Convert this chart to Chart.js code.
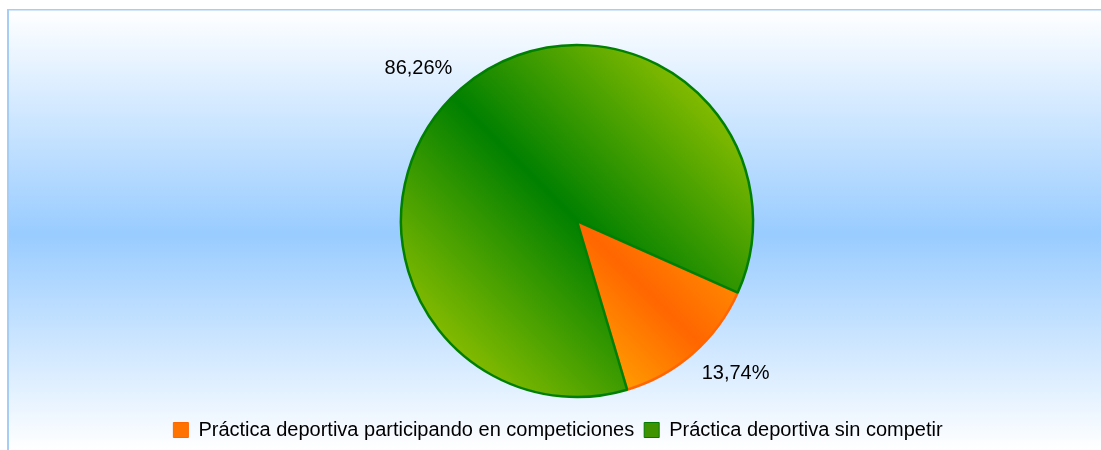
<!DOCTYPE html>
<html>
<head>
<meta charset="utf-8">
<script src="https://cdn.jsdelivr.net/npm/chart.js"></script>
<style>
  html, body { margin: 0; padding: 0; background: #ffffff; }
  #wrap { position: relative; width: 1101px; height: 450px; }
</style>
</head>
<body>
<div id="wrap"><canvas id="pieChart"></canvas></div>
<script>
  const categories = [
    "Práctica deportiva participando en competiciones",
    "Práctica deportiva sin competir",
  ];
  const shares = [13.74, 86.26];

  const FONT = '"Liberation Sans", Arial, sans-serif';
  const PIE_RADIUS = 176;
  const LABEL_GAP = 13;

  // slice gradients: [edge, middle, other edge]
  const sliceStops = [
    ["#ffa400", "#ff6600", "#ffb400"],
    ["#82ba00", "#008000", "#82ba00"],
  ];
  const sliceBorders = ["#ff6600", "#008000"];
  const legendFill = ["#ff7400", "#3f9200"];
  const legendStroke = ["#ff6600", "#007a00"];

  function formatShare(v) {
    return v.toFixed(2).replace(".", ",") + "%";
  }

  function sliceGradient(c) {
    const chart = c.chart;
    const area = chart.chartArea;
    const i = c.dataIndex;
    if (!area || i === undefined) return sliceBorders[i || 0];

    const cx = (area.left + area.right) / 2;
    const cy = (area.top + area.bottom) / 2;
    const r = PIE_RADIUS;
    let g;
    if (i === 0) {
      g = chart.ctx.createLinearGradient(cx + r, cy, cx, cy + r);
    } else {
      const k = r * 0.707;
      g = chart.ctx.createLinearGradient(cx + k, cy - k, cx - k, cy + k);
    }
    g.addColorStop(0, sliceStops[i][0]);
    g.addColorStop(0.5, sliceStops[i][1]);
    g.addColorStop(1, sliceStops[i][2]);
    return g;
  }

  const framePlugin = {
    id: "frame",
    beforeDraw(chart) {
      const { ctx, width, height } = chart;
      const bg = ctx.createLinearGradient(0, 10, 0, height);
      bg.addColorStop(0, "#ffffff");
      bg.addColorStop(0.51, "#99ccff");
      bg.addColorStop(1, "#ffffff");
      ctx.save();
      ctx.fillStyle = bg;
      ctx.fillRect(8, 10, width - 8, height - 10);
      ctx.fillStyle = "#a6cdf5";
      ctx.fillRect(7, 9, 2, height - 9);
      ctx.fillRect(7, 9, width - 7, 1.5);
      ctx.restore();
    },
  };

  // legend sits a little left of the pie in the original
  const legendShift = {
    id: "legendShift",
    afterLayout(chart) {
      if (!chart.legend) return;
      chart.legend.left -= 19;
      chart.legend.right -= 19;
    },
  };

  const sliceLabels = {
    id: "sliceLabels",
    afterDatasetsDraw(chart) {
      const meta = chart.getDatasetMeta(0);
      const ctx = chart.ctx;
      ctx.save();
      ctx.font = "20px " + FONT;
      ctx.fillStyle = "#000000";
      meta.data.forEach((arc, i) => {
        const mid = (arc.startAngle + arc.endAngle) / 2;
        const dist = arc.outerRadius + LABEL_GAP;
        const cos = Math.cos(mid);
        const sin = Math.sin(mid);
        ctx.textAlign = cos >= 0 ? "left" : "right";
        ctx.textBaseline = sin >= 0 ? "top" : "bottom";
        ctx.fillText(formatShare(shares[i]), arc.x + cos * dist, arc.y + sin * dist);
      });
      ctx.restore();
    },
  };

  new Chart(document.getElementById("pieChart"), {
    type: "pie",
    data: {
      labels: categories,
      datasets: [
        {
          data: shares,
          backgroundColor: sliceGradient,
          borderColor: sliceBorders,
          borderWidth: 2.5,
          hoverBorderWidth: 2.5,
        },
      ],
    },
    options: {
      responsive: true,
      maintainAspectRatio: false,
      animation: false,
      events: [],
      rotation: 114,
      radius: PIE_RADIUS,
      layout: {
        padding: { top: 32, left: 53, right: 0, bottom: 0 },
      },
      plugins: {
        tooltip: { enabled: false },
        legend: {
          position: "bottom",
          labels: {
            boxWidth: 15,
            boxHeight: 15,
            padding: 10,
            color: "#000000",
            font: { family: FONT, size: 20 },
            generateLabels() {
              return categories.map((text, i) => ({
                text,
                fillStyle: legendFill[i],
                strokeStyle: legendStroke[i],
                lineWidth: 1,
                hidden: false,
                index: i,
              }));
            },
          },
        },
      },
    },
    plugins: [framePlugin, legendShift, sliceLabels],
  });
</script>
</body>
</html>
